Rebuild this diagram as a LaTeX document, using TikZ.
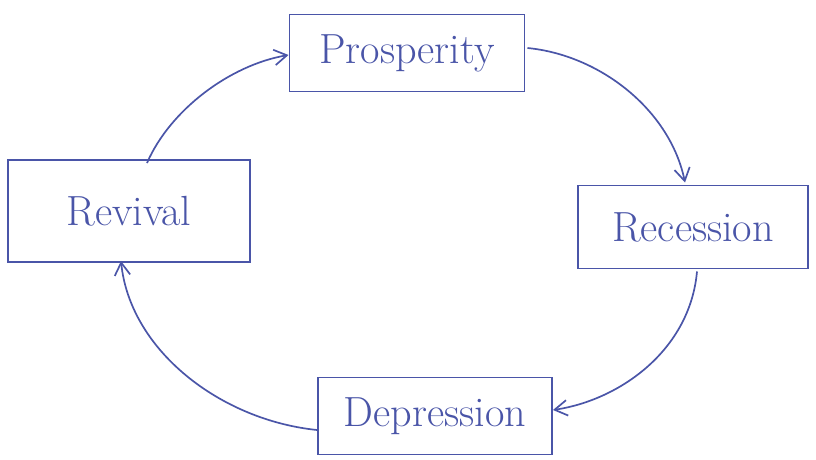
\documentclass[tikz,border=0pt]{standalone}
\usetikzlibrary{arrows.meta,calc}
\definecolor{ink}{HTML}{4A55A8}
\begin{document}
\begin{tikzpicture}[x=0.025cm,y=-0.025cm,
  stagebox/.style={draw=ink,line width=1.4pt,rectangle,text=ink,font=\fontsize{30}{34}\selectfont,inner sep=0pt},
  flow/.style={draw=ink,line width=1.2pt,-{Straight Barb[length=9pt,width=11pt]}}]
\fill[white] (0,0) rectangle (816,460);
\useasboundingbox (0,0) rectangle (816,460);
\node[stagebox,minimum width=235*0.025cm,minimum height=77*0.025cm] (pro) at (407,53) {Prosperity};
\node[stagebox,minimum width=230*0.025cm,minimum height=83*0.025cm] (rec) at (693,227) {Recession};
\node[stagebox,minimum width=234*0.025cm,minimum height=77*0.025cm] (dep) at (435,416) {Depression};
\node[stagebox,minimum width=242*0.025cm,minimum height=102*0.025cm] (rev) at (129,211) {Revival};
\draw[flow] ($(rev.north)+(18,4)$) .. controls (170,110) and (230,65) .. ($(pro.west)+(0,2)$);
\draw[flow] ($(pro.east)+(2,-5)$) .. controls (600,55) and (670,110) .. ($(rec.north)+(-8,-2)$);
\draw[flow] ($(rec.south)+(4,2)$) .. controls (690,350) and (620,400) .. ($(dep.east)+(0,-6)$);
\draw[flow] ($(dep.west)+(0,14)$) .. controls (220,420) and (130,350) .. ($(rev.south)+(-8,-2)$);
\end{tikzpicture}
\end{document}
